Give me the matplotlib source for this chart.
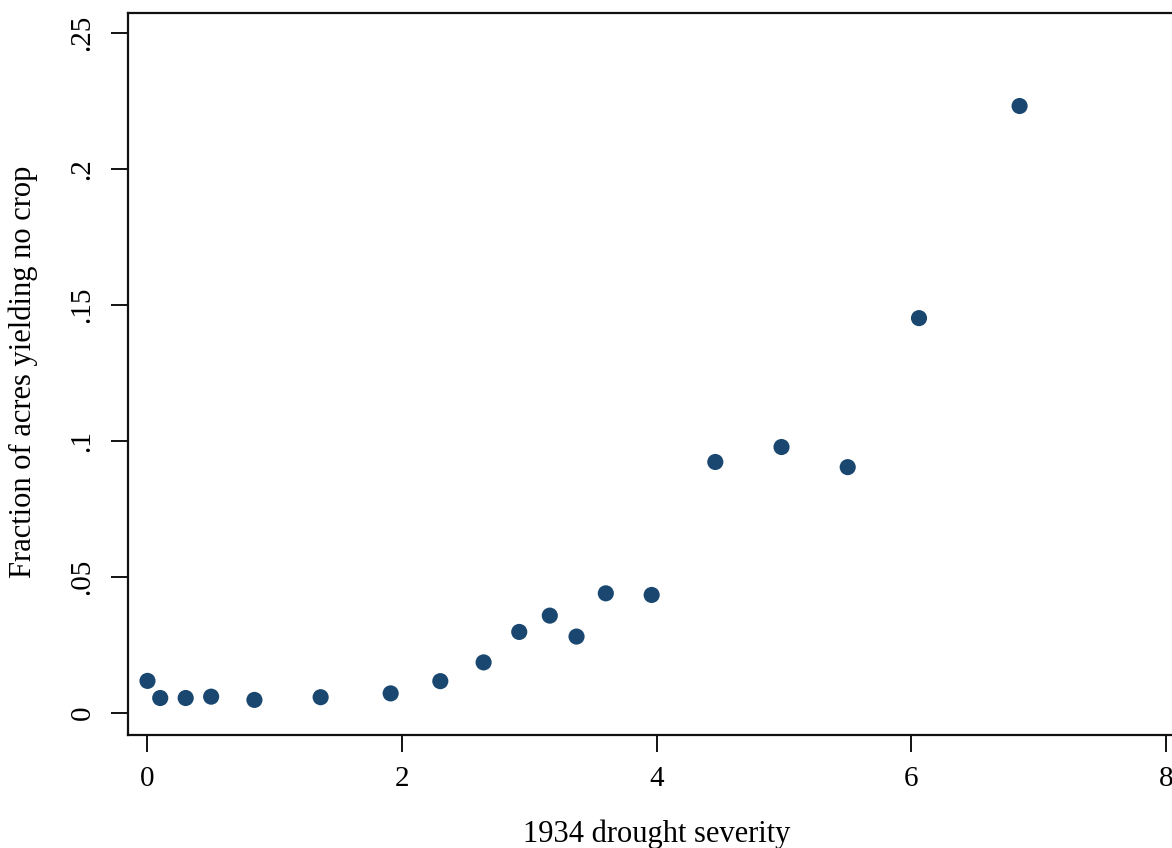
import matplotlib.pyplot as plt

# 1934 drought severity vs. fraction of acres yielding no crop
severity = [0.0, 0.10, 0.30, 0.50, 0.84, 1.36, 1.91, 2.30, 2.64, 2.92,
            3.16, 3.37, 3.60, 3.96, 4.46, 4.98, 5.50, 6.06, 6.85]
no_crop = [0.0118, 0.0055, 0.0055, 0.0060, 0.0048, 0.0058, 0.0072, 0.0117,
           0.0186, 0.0298, 0.0358, 0.0281, 0.0440, 0.0434, 0.0923, 0.0978,
           0.0904, 0.1452, 0.2232]

x_ticks = [0, 2, 4, 6, 8]
y_ticks = [0, 0.05, 0.10, 0.15, 0.20, 0.25]
y_tick_labels = ["0", ".05", ".1", ".15", ".2", ".25"]

plt.rcParams["font.family"] = ["Liberation Serif", "DejaVu Serif"]

W, H = 1172, 848
fig = plt.figure(figsize=(W / 100, H / 100), dpi=100)
# axes run past the right edge of the figure, as in the source image
left, right, bottom, top = 127.5, 1180, 735, 13
ax = fig.add_axes([left / W, (H - bottom) / H, (right - left) / W, (bottom - top) / H])

ax.scatter(severity, no_crop, s=135, color="#1a476f", edgecolors="none", zorder=3)

ax.set_xlim(-0.157, 8.11)
ax.set_ylim(-0.0081, 0.2574)
ax.set_xticks(x_ticks)
ax.set_yticks(y_ticks)
ax.set_yticklabels(y_tick_labels, rotation=90, va="center")

for s in ax.spines.values():
    s.set_linewidth(1.6)
    s.set_color("#111111")

ax.tick_params(axis="both", length=12, width=1.4, labelsize=21, color="#111111")
ax.tick_params(axis="x", pad=10)
ax.tick_params(axis="y", pad=11)

ax.set_xlabel("1934 drought severity", fontsize=22)
ax.set_ylabel("Fraction of acres yielding no crop", fontsize=22)
ax.xaxis.set_label_coords(0.503, -0.117)
ax.yaxis.set_label_coords(-0.085, 0.503)

fig.savefig("out.png", dpi=100)
